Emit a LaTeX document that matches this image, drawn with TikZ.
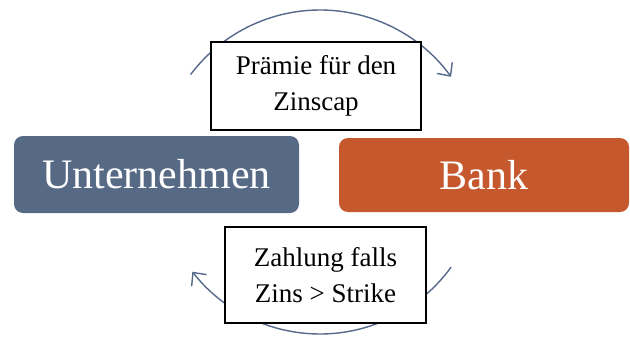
\documentclass[tikz,border=0pt]{standalone}
\usepackage{fontspec}
\setmainfont{Liberation Serif}
\usetikzlibrary{arrows.meta,calc}
\definecolor{slate}{HTML}{566A86}
\definecolor{rust}{HTML}{C5582D}
\definecolor{arcblue}{HTML}{55698A}
\begin{document}
\begin{tikzpicture}[x=1pt,y=-1pt,
  party/.style={rounded corners=9pt, inner sep=0pt, text=white,
    font=\fontsize{42}{48}\selectfont},
  label/.style={draw=black, line width=1.1pt, fill=white, inner sep=0pt,
    align=center, font=\fontsize{27}{36}\selectfont},
  cyc/.style={draw=arcblue, line width=1.4pt, -{Straight Barb[length=10pt,width=19pt,line width=1.4pt]}}
]
\useasboundingbox (0,0) rectangle (630,338);
\node[party, fill=slate, minimum width=285pt, minimum height=77pt] (u) at (156.5,174.5) {Unternehmen};
\node[party, fill=rust, minimum width=290pt, minimum height=74pt] (b) at (484,175) {Bank};
\coordinate (c) at (320,172);
\coordinate (ts) at ($(c)+(-143:162)$);
\coordinate (bs) at ($(c)+(36:162)$);
\draw[cyc] (ts) arc[start angle=-143, end angle=-36, radius=162];
\draw[cyc] (bs) arc[start angle=36, end angle=142, radius=162];
\node[label, minimum width=210pt, minimum height=88pt] (t) at (316,86) {Prämie für den\\Zinscap};
\node[label, minimum width=201pt, minimum height=96pt] (z) at (325.5,275) {Zahlung falls\\Zins > Strike};
\end{tikzpicture}
\end{document}
